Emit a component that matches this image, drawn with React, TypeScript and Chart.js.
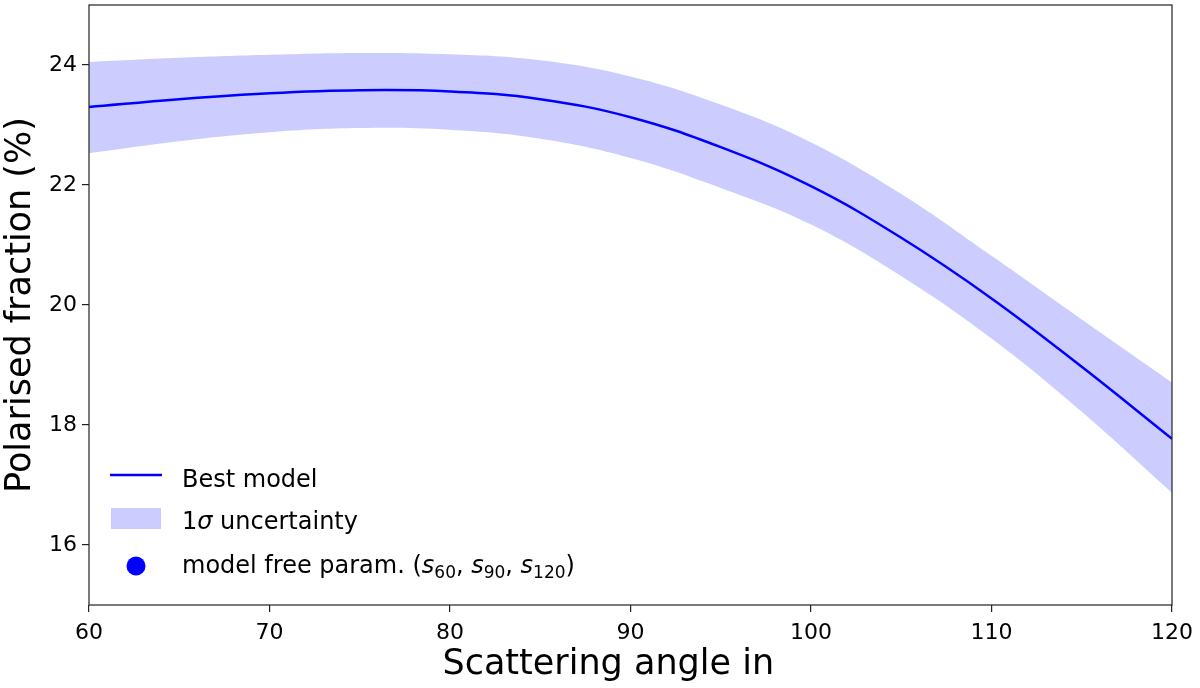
import React, { useEffect, useRef } from 'react'
import Chart, { ChartConfiguration, Plugin } from 'chart.js/auto'

// scattering angle (deg) and polarised fraction (%)
const angles = [60, 65, 70, 75, 80, 85, 90, 95, 100, 105, 110, 115, 120]
const bestModel = [23.3, 23.43, 23.53, 23.58, 23.56, 23.43, 23.13, 22.63, 21.98, 21.12, 20.11, 18.97, 17.77]
const bandUpper = [24.05, 24.12, 24.17, 24.2, 24.18, 24.08, 23.81, 23.34, 22.71, 21.85, 20.82, 19.76, 18.71]
const bandLower = [22.53, 22.73, 22.88, 22.95, 22.92, 22.77, 22.45, 21.95, 21.34, 20.48, 19.44, 18.22, 16.87]
const xTicks = [60, 70, 80, 90, 100, 110, 120]
const yTicks = [16, 18, 20, 22, 24]

const FONT = 'DejaVu Sans'
const LINE_BLUE = '#0000ff'
const BAND_BLUE = 'rgba(0, 0, 255, 0.2)'

type Seg = { t: string; italic?: boolean; sub?: boolean }

const legendText: Seg[][] = [
    [{ t: 'Best model' }],
    [{ t: '1' }, { t: 'σ', italic: true }, { t: ' uncertainty' }],
    [
        { t: 'model free param. (' },
        { t: 's', italic: true },
        { t: '60', sub: true },
        { t: ', ' },
        { t: 's', italic: true },
        { t: '90', sub: true },
        { t: ', ' },
        { t: 's', italic: true },
        { t: '120', sub: true },
        { t: ')' },
    ],
]

function drawRich(ctx: CanvasRenderingContext2D, segs: Seg[], x: number, y: number) {
    let cx = x
    for (const s of segs) {
        const size = s.sub ? 17 : 24
        ctx.font = `${s.italic ? 'italic ' : ''}${size}px "${FONT}"`
        ctx.fillText(s.t, cx, s.sub ? y + 5 : y)
        cx += ctx.measureText(s.t).width
    }
}

// frame round the plot area + legend sitting inside it (lower left)
const framePlugin: Plugin = {
    id: 'frameAndLegend',
    afterDraw(chart) {
        const { ctx, chartArea } = chart
        const { left, right, top, bottom } = chartArea
        ctx.save()
        ctx.strokeStyle = '#222'
        ctx.lineWidth = 1.2
        ctx.strokeRect(left, top, right - left, bottom - top)

        // line sample
        ctx.strokeStyle = LINE_BLUE
        ctx.lineWidth = 2.5
        ctx.beginPath()
        ctx.moveTo(left + 21, bottom - 130)
        ctx.lineTo(left + 73, bottom - 130)
        ctx.stroke()
        // band sample
        ctx.fillStyle = BAND_BLUE
        ctx.fillRect(left + 22, bottom - 97, 50, 21)
        // point sample
        ctx.fillStyle = LINE_BLUE
        ctx.beginPath()
        ctx.arc(left + 47, bottom - 39, 9.5, 0, Math.PI * 2)
        ctx.fill()

        ctx.fillStyle = '#000'
        ctx.textBaseline = 'alphabetic'
        ctx.textAlign = 'left'
        drawRich(ctx, legendText[0], left + 93, bottom - 118)
        drawRich(ctx, legendText[1], left + 93, bottom - 76)
        drawRich(ctx, legendText[2], left + 93, bottom - 32)
        ctx.restore()
    },
}

export default function App() {
    const canvas = useRef<HTMLCanvasElement | null>(null)

    useEffect(() => {
        if (!canvas.current) {
            return
        }

        const pts = (ys: number[]) => angles.map((x, i) => ({ x, y: ys[i] }))

        const cfg: ChartConfiguration = {
            type: 'line',
            data: {
                datasets: [
                    {
                        label: 'lower',
                        data: pts(bandLower),
                        borderWidth: 0,
                        pointRadius: 0,
                        fill: false,
                        tension: 0.4,
                    },
                    {
                        label: '1σ uncertainty',
                        data: pts(bandUpper),
                        borderWidth: 0,
                        pointRadius: 0,
                        backgroundColor: BAND_BLUE,
                        fill: '-1',
                        tension: 0.4,
                    },
                    {
                        label: 'Best model',
                        data: pts(bestModel),
                        borderColor: LINE_BLUE,
                        borderWidth: 2.5,
                        pointRadius: 0,
                        fill: false,
                        tension: 0.4,
                    },
                    {
                        type: 'scatter',
                        label: 'model free param.',
                        data: [],
                        backgroundColor: LINE_BLUE,
                        pointRadius: 9,
                    },
                ],
            },
            options: {
                animation: false,
                responsive: true,
                maintainAspectRatio: false,
                layout: { padding: { top: 5, right: 28, left: 0, bottom: 0 } },
                plugins: {
                    legend: { display: false },
                    tooltip: { enabled: false },
                },
                scales: {
                    x: {
                        type: 'linear',
                        min: 60,
                        max: 120,
                        afterBuildTicks: (s) => {
                            s.ticks = xTicks.map((v) => ({ value: v }))
                        },
                        afterFit: (s) => {
                            s.height = 83
                            s.paddingLeft = 0
                            s.paddingRight = 0
                        },
                        grid: { drawOnChartArea: false, tickLength: 7, color: '#222', lineWidth: 1.2 },
                        border: { display: false },
                        ticks: { color: '#000', font: { family: FONT, size: 22 }, padding: 8, maxRotation: 0 },
                        title: {
                            display: true,
                            text: 'Scattering angle in    ',
                            color: '#000',
                            font: { family: FONT, size: 35 },
                            padding: { top: 0, bottom: 2 },
                        },
                    },
                    y: {
                        min: 15,
                        max: 25,
                        afterBuildTicks: (s) => {
                            s.ticks = yTicks.map((v) => ({ value: v }))
                        },
                        afterFit: (s) => {
                            s.width = 89
                            s.paddingTop = 0
                            s.paddingBottom = 0
                        },
                        grid: { drawOnChartArea: false, tickLength: 7, color: '#222', lineWidth: 1.2 },
                        border: { display: false },
                        ticks: { color: '#000', font: { family: FONT, size: 22 }, padding: 5 },
                        title: {
                            display: true,
                            text: 'Polarised fraction (%)',
                            color: '#000',
                            font: { family: FONT, size: 35 },
                            padding: { top: 0, bottom: 0 },
                        },
                    },
                },
            },
            plugins: [framePlugin],
        }

        const chart = new Chart(canvas.current, cfg)
        return () => chart.destroy()
    }, [])

    return (
        <div style={{ position: 'absolute', left: 0, top: 0, width: 1200, height: 688, background: '#fff' }}>
            <canvas ref={canvas}></canvas>
        </div>
    )
}
